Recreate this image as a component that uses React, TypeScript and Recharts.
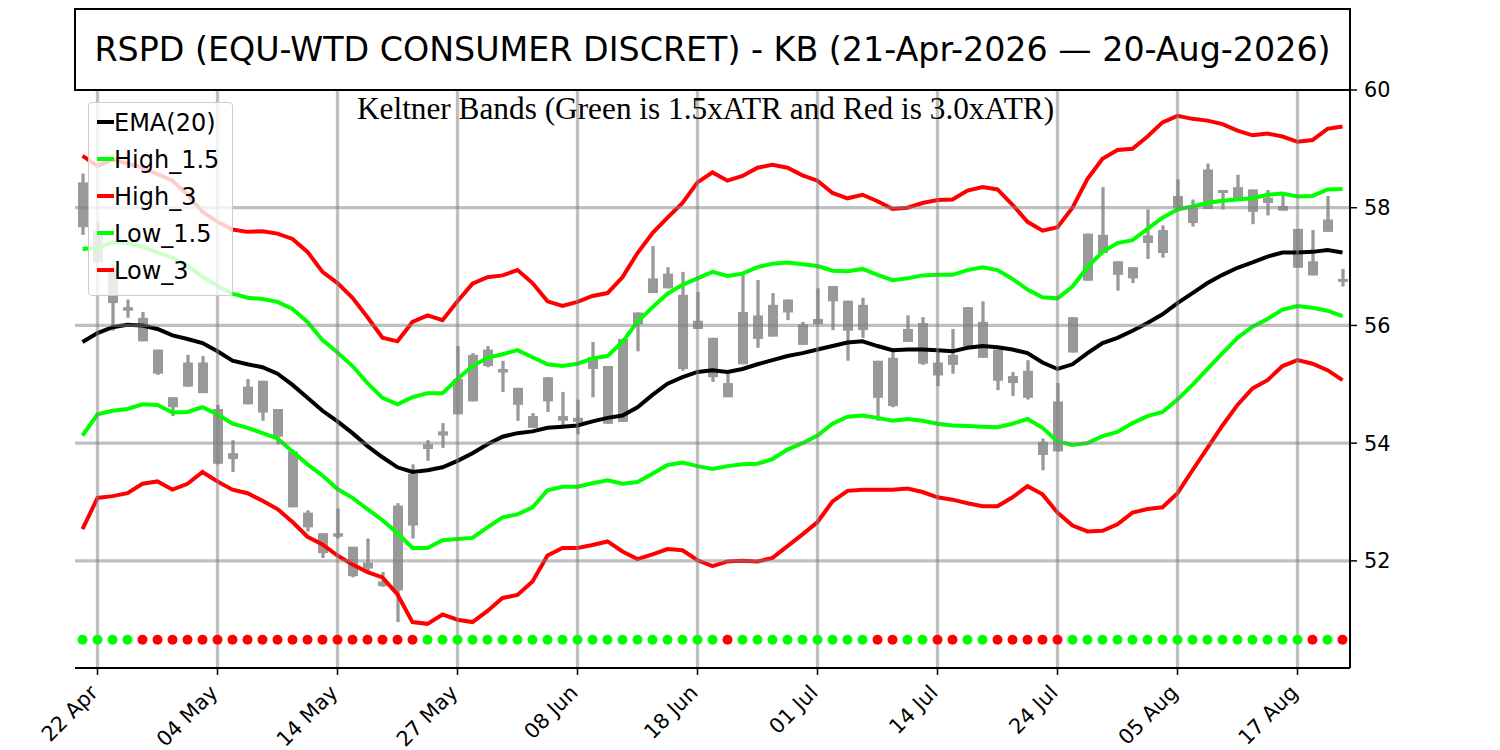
import React from 'react';
import { ComposedChart, Line, Bar, XAxis, YAxis, ReferenceLine } from 'recharts';

// ---------------- data ----------------
const TITLE = 'RSPD (EQU-WTD CONSUMER DISCRET) - KB (21-Apr-2026 \u2014 20-Aug-2026)';
const SUBTITLE = 'Keltner Bands (Green is 1.5xATR and Red is 3.0xATR)';

const tickIdx = [1, 9, 17, 25, 33, 41, 49, 57, 65, 73, 81];
const tickLabels = ['22 Apr', '04 May', '14 May', '27 May', '08 Jun', '18 Jun', '01 Jul', '14 Jul', '24 Jul', '05 Aug', '17 Aug'];
const yTicks = [52, 54, 56, 58, 60];
const gridY = [52, 54, 56, 58];

const highV = [58.58, 57.76, 57.04, 56.44, 56.23, 55.59, 54.78, 55.50, 55.48, 54.65,
  54.05, 55.09, 55.06, 54.58, 53.89, 52.86, 52.47, 52.89, 52.24, 52.38,
  51.81, 52.98, 53.64, 54.05, 54.34, 55.65, 55.53, 55.65, 55.40, 54.94,
  54.51, 55.12, 54.87, 54.74, 55.72, 55.31, 55.77, 56.22, 57.35, 56.99,
  56.91, 56.57, 55.79, 55.24, 56.86, 56.77, 56.55, 56.44, 56.06, 56.63,
  56.67, 56.42, 56.47, 55.40, 55.59, 56.17, 56.14, 55.59, 55.94, 56.31,
  56.41, 55.59, 55.21, 55.41, 54.08, 55.02, 56.14, 57.56, 58.35, 57.09,
  56.99, 57.97, 57.70, 58.48, 58.14, 58.75, 58.30, 58.56, 58.31, 58.30,
  58.22, 57.64, 57.62, 58.20, 56.96];
const lowV = [57.54, 57.07, 55.91, 56.13, 55.73, 55.16, 54.46, 54.96, 54.85, 53.64,
  53.51, 54.66, 54.38, 53.98, 52.91, 52.50, 52.05, 52.38, 51.72, 51.81,
  51.56, 50.96, 52.38, 53.70, 53.92, 54.49, 54.71, 55.29, 54.87, 54.38,
  54.26, 54.53, 54.30, 54.15, 54.78, 54.33, 54.36, 55.56, 56.55, 56.63,
  55.23, 55.94, 55.04, 54.78, 55.34, 55.62, 55.81, 56.09, 55.67, 56.02,
  55.92, 55.40, 55.79, 54.38, 54.61, 55.72, 55.33, 54.97, 55.18, 55.65,
  55.45, 54.90, 54.80, 54.74, 53.54, 53.86, 55.54, 56.76, 57.23, 56.59,
  56.72, 57.13, 57.15, 58.00, 57.68, 57.98, 57.97, 58.14, 57.72, 57.87,
  57.95, 56.98, 56.85, 57.59, 56.66];
const openV = [58.43, 57.62, 56.98, 56.31, 56.13, 55.59, 54.78, 55.37, 55.37, 54.58,
  53.83, 54.96, 55.06, 54.58, 53.86, 52.82, 52.47, 52.47, 52.24, 51.97,
  51.65, 52.94, 53.48, 53.98, 54.20, 55.09, 55.50, 55.59, 55.26, 54.94,
  54.46, 55.12, 54.46, 54.43, 55.46, 55.31, 55.77, 56.22, 56.80, 56.88,
  56.52, 56.08, 55.79, 55.02, 56.23, 56.17, 56.35, 56.44, 56.02, 56.11,
  56.67, 56.42, 56.35, 55.40, 55.45, 55.94, 56.04, 55.37, 55.50, 56.31,
  56.06, 55.59, 55.14, 55.23, 54.02, 54.71, 56.14, 57.56, 57.54, 57.09,
  56.99, 57.53, 57.62, 58.20, 58.00, 58.65, 58.30, 58.35, 58.31, 58.17,
  58.03, 57.64, 57.09, 57.80, 56.79];
const closeV = [57.67, 57.07, 56.38, 56.25, 55.73, 55.18, 54.61, 54.96, 54.85, 53.65,
  53.73, 54.66, 54.52, 54.11, 52.91, 52.57, 52.13, 52.41, 51.74, 51.87,
  51.57, 51.50, 52.60, 53.90, 54.13, 54.49, 54.71, 55.31, 55.20, 54.65,
  54.26, 54.71, 54.38, 54.36, 55.26, 54.33, 54.36, 56.02, 56.55, 56.63,
  55.26, 55.94, 55.12, 54.78, 55.34, 55.77, 55.81, 56.22, 55.67, 56.02,
  56.41, 55.91, 55.92, 54.77, 54.63, 55.72, 55.35, 55.15, 55.33, 55.65,
  55.45, 55.06, 55.02, 54.77, 53.80, 53.86, 55.54, 56.76, 57.23, 56.86,
  56.80, 57.40, 57.23, 58.00, 57.74, 57.98, 58.25, 58.14, 57.93, 58.08,
  57.95, 56.98, 56.85, 57.59, 56.74];

const ema20 = [55.72, 55.87, 55.97, 56.01, 56.00, 55.94, 55.83, 55.77, 55.70, 55.56,
  55.40, 55.34, 55.29, 55.18, 54.99, 54.77, 54.55, 54.37, 54.17, 53.95,
  53.76, 53.59, 53.51, 53.54, 53.59, 53.70, 53.83, 53.98, 54.11, 54.17,
  54.20, 54.26, 54.28, 54.30, 54.37, 54.43, 54.47, 54.61, 54.82, 55.01,
  55.12, 55.21, 55.24, 55.21, 55.26, 55.34, 55.41, 55.48, 55.53, 55.59,
  55.65, 55.71, 55.73, 55.65, 55.58, 55.59, 55.59, 55.58, 55.56, 55.62,
  55.65, 55.63, 55.59, 55.53, 55.37, 55.26, 55.34, 55.53, 55.70, 55.79,
  55.91, 56.04, 56.19, 56.38, 56.55, 56.72, 56.86, 56.98, 57.07, 57.17,
  57.24, 57.24, 57.25, 57.28, 57.24];
const high15 = [57.30, 57.32, 57.41, 57.40, 57.34, 57.24, 57.15, 57.01, 56.83, 56.67,
  56.54, 56.47, 56.45, 56.40, 56.28, 56.06, 55.75, 55.54, 55.31, 55.02,
  54.77, 54.66, 54.78, 54.85, 54.85, 55.09, 55.31, 55.45, 55.51, 55.58,
  55.46, 55.34, 55.31, 55.35, 55.44, 55.48, 55.72, 56.06, 56.31, 56.54,
  56.69, 56.80, 56.91, 56.84, 56.88, 56.99, 57.05, 57.07, 57.04, 57.01,
  56.93, 56.92, 56.96, 56.86, 56.77, 56.80, 56.85, 56.86, 56.86, 56.94,
  56.99, 56.94, 56.79, 56.61, 56.48, 56.46, 56.66, 56.99, 57.25, 57.40,
  57.45, 57.64, 57.83, 57.97, 58.02, 58.08, 58.12, 58.14, 58.16, 58.22,
  58.24, 58.19, 58.20, 58.31, 58.32];
const high3 = [58.88, 58.71, 58.82, 58.75, 58.68, 58.57, 58.46, 58.22, 57.93, 57.76,
  57.63, 57.59, 57.60, 57.56, 57.47, 57.25, 56.91, 56.72, 56.47, 56.14,
  55.79, 55.73, 56.06, 56.17, 56.09, 56.41, 56.71, 56.82, 56.85, 56.94,
  56.72, 56.41, 56.33, 56.40, 56.50, 56.55, 56.82, 57.23, 57.57, 57.83,
  58.08, 58.43, 58.60, 58.46, 58.54, 58.68, 58.73, 58.68, 58.55, 58.46,
  58.25, 58.16, 58.22, 58.11, 57.98, 58.00, 58.08, 58.13, 58.14, 58.29,
  58.35, 58.31, 58.05, 57.76, 57.61, 57.67, 58.00, 58.49, 58.83, 58.98,
  59.00, 59.21, 59.45, 59.56, 59.51, 59.48, 59.42, 59.31, 59.23, 59.26,
  59.21, 59.12, 59.15, 59.34, 59.38];
const low15 = [54.13, 54.49, 54.55, 54.58, 54.66, 54.65, 54.52, 54.53, 54.61, 54.49,
  54.33, 54.26, 54.17, 54.08, 53.86, 53.64, 53.45, 53.22, 53.07, 52.88,
  52.69, 52.47, 52.22, 52.22, 52.35, 52.37, 52.39, 52.57, 52.74, 52.79,
  52.91, 53.20, 53.26, 53.26, 53.32, 53.37, 53.31, 53.34, 53.48, 53.63,
  53.67, 53.61, 53.56, 53.61, 53.64, 53.65, 53.73, 53.89, 54.00, 54.13,
  54.33, 54.45, 54.47, 54.43, 54.38, 54.41, 54.38, 54.33, 54.30, 54.29,
  54.28, 54.27, 54.33, 54.41, 54.26, 54.03, 53.97, 54.00, 54.12, 54.19,
  54.34, 54.46, 54.53, 54.74, 54.99, 55.26, 55.53, 55.79, 55.98, 56.11,
  56.27, 56.33, 56.30, 56.25, 56.16];
const low3 = [52.54, 53.07, 53.10, 53.15, 53.31, 53.35, 53.21, 53.31, 53.51, 53.35,
  53.21, 53.15, 53.02, 52.88, 52.66, 52.41, 52.28, 52.09, 51.94, 51.81,
  51.72, 51.43, 50.96, 50.93, 51.09, 51.00, 50.96, 51.15, 51.37, 51.42,
  51.65, 52.09, 52.22, 52.22, 52.27, 52.33, 52.16, 52.03, 52.11, 52.20,
  52.18, 52.01, 51.91, 51.99, 52.00, 51.99, 52.05, 52.25, 52.45, 52.66,
  53.01, 53.19, 53.21, 53.21, 53.21, 53.23, 53.17, 53.08, 53.04, 52.98,
  52.93, 52.93, 53.08, 53.27, 53.13, 52.82, 52.60, 52.50, 52.51, 52.62,
  52.82, 52.88, 52.91, 53.15, 53.54, 53.92, 54.30, 54.65, 54.93, 55.07,
  55.31, 55.41, 55.35, 55.24, 55.07];

// g = green signal, r = red signal (one per trading day)
const signal = ('gggg' + 'rrrrrrrrrrrrrrrrrrr' + 'gggggggggggggggggggg' + 'r' + 'ggggggggg' +
  'rr' + 'gg' + 'rr' + 'gg' + 'rrrrr' + 'gggggggggggggggg' + 'r' + 'g' + 'r').split('');
const SIGNAL_LEVEL = 50.66;

const seriesNames = ['EMA(20)', 'High_1.5', 'High_3', 'Low_1.5', 'Low_3'];
const seriesKeys = ['ema', 'h15', 'h3', 'l15', 'l3'];
const seriesColors = ['#000000', '#00ff00', '#ff0000', '#00ff00', '#ff0000'];

const rows = highV.map((h, i) => ({
  idx: i,
  high: h,
  low: lowV[i],
  open: openV[i],
  close: closeV[i],
  ema: ema20[i],
  h15: high15[i],
  h3: high3[i],
  l15: low15[i],
  l3: low3[i],
  sig: signal[i],
  sigY: SIGNAL_LEVEL,
}));

// ---------------- styles ----------------
const CANDLE = '#999999';
const GRID = '#808080';
const SANS = '"DejaVu Sans", sans-serif';
const SERIF = '"Liberation Serif", "DejaVu Serif", serif';
const TICK_FONT = 20.8;

function Candle(props: any) {
  const { x, y, width, height, payload } = props;
  if (x == null || y == null || payload == null) return <g />;
  const top = Math.min(y, y + height);
  const bot = Math.max(y, y + height);
  const span = payload.high - payload.low;
  const k = span > 0 ? (bot - top) / span : 0;
  const bHi = Math.max(payload.open, payload.close);
  const bLo = Math.min(payload.open, payload.close);
  const yb1 = top + (payload.high - bHi) * k;
  const yb2 = top + (payload.high - bLo) * k;
  const cx = x + width / 2;
  return (
    <g>
      <rect x={cx - 1.65} y={top} width={3.3} height={Math.max(bot - top, 1)} fill={CANDLE} />
      <rect x={cx - 5} y={yb1} width={10} height={Math.max(yb2 - yb1, 1.5)} fill={CANDLE} />
    </g>
  );
}

function XTick(props: any) {
  const { x, y, payload } = props;
  const k = tickIdx.indexOf(payload.value);
  if (k < 0) return <g />;
  const tx = x + 1.5;
  const ty = y + 19;
  return (
    <g>
      <line x1={x} x2={x} y1={y - 7} y2={y} stroke="#000" strokeWidth={1.5} />
      <text x={tx} y={ty} transform={`rotate(-45 ${tx} ${ty})`} textAnchor="end" fontSize={TICK_FONT} fontFamily={SANS} fill="#000">
        {tickLabels[k]}
      </text>
    </g>
  );
}

const renderSignalDot = (p: any) => {
  if (p.cx == null || p.cy == null) return <g key={`s${p.index}`} />;
  return (
    <circle key={`s${p.index}`} cx={p.cx} cy={p.cy} r={5}
      fill={p.payload.sig === 'r' ? '#ff0000' : '#00ff00'} />
  );
};

export default function App() {
  return (
    <div style={{ position: 'absolute', left: 0, top: 0, width: 1500, height: 750, background: '#fff', overflow: 'hidden' }}>
      <ComposedChart width={1500} height={750} data={rows} margin={{ top: 90, right: 90, bottom: 22, left: 75 }}>
        <XAxis dataKey="idx" type="category" interval={0} height={60} tickSize={7} tickMargin={0}
          tickLine={false} axisLine={{ stroke: '#000', strokeWidth: 2 }} tick={<XTick />} />
        <YAxis orientation="right" type="number" domain={[50.18, 60]} ticks={yTicks} allowDataOverflow
          width={60} tickSize={7} tickMargin={7}
          axisLine={{ stroke: '#000', strokeWidth: 2 }} tickLine={{ stroke: '#000', strokeWidth: 1.5 }}
          tick={{ fontSize: TICK_FONT, fill: '#000', fontFamily: SANS }} />
        <YAxis yAxisId="frame" orientation="left" width={0} tick={false} tickLine={false}
          axisLine={{ stroke: '#000', strokeWidth: 2 }} />

        {seriesKeys.map((k, i) => (
          <Line key={k} dataKey={k} name={seriesNames[i]} stroke={seriesColors[i]} strokeWidth={4}
            dot={false} activeDot={false} isAnimationActive={false} />
        ))}

        <Bar dataKey={(d: any) => [d.low, d.high]} barSize={10} shape={(p: any) => <Candle {...p} />}
          isAnimationActive={false} />

        <Line dataKey="sigY" stroke="none" dot={renderSignalDot} activeDot={false} isAnimationActive={false} />

        {tickIdx.map((t) => (
          <ReferenceLine key={`gx${t}`} x={t} stroke={GRID} strokeOpacity={0.5} strokeWidth={3.3} />
        ))}
        {gridY.map((v) => (
          <ReferenceLine key={`gy${v}`} y={v} stroke={GRID} strokeOpacity={0.5} strokeWidth={3.3} />
        ))}
      </ComposedChart>

      {/* title box */}
      <div style={{
        position: 'absolute', left: 74, top: 8, width: 1277, height: 83, boxSizing: 'border-box',
        border: '2px solid #000', fontFamily: SANS, fontSize: 33.3, lineHeight: '79px', textAlign: 'center',
        color: '#000', whiteSpace: 'nowrap', background: '#fff',
      }}>{TITLE}</div>

      {/* subtitle */}
      <div style={{
        position: 'absolute', left: 0, top: 92.3, width: 1411, textAlign: 'center', fontFamily: SERIF,
        fontSize: 31.3, lineHeight: '34px', color: '#000', whiteSpace: 'nowrap',
      }}>{SUBTITLE}</div>

      {/* legend */}
      <div style={{
        position: 'absolute', left: 88, top: 102, width: 145, height: 194, boxSizing: 'border-box',
        border: '1px solid #cccccc', borderRadius: 4, background: 'rgba(255,255,255,0.8)',
      }} />
      {seriesNames.map((n, i) => (
        <div key={n}>
          <div style={{
            position: 'absolute', left: 96.5, top: 120 + i * 37.1, width: 17, height: 4,
            background: seriesColors[i],
          }} />
          <div style={{
            position: 'absolute', left: 114, top: 108.7 + i * 37.1, fontFamily: SANS, fontSize: 24,
            lineHeight: '28px', color: '#000', whiteSpace: 'nowrap',
          }}>{n}</div>
        </div>
      ))}
    </div>
  );
}
